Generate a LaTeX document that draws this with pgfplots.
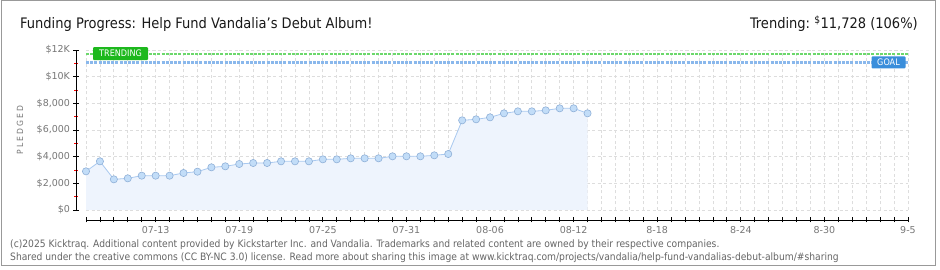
\documentclass[border=0pt]{standalone}
\usepackage{pgfplots}
\pgfplotsset{compat=1.18}
\usepackage{fontspec}
\setmainfont{DejaVu Sans Condensed}
\newfontfamily\tickfont{DejaVu Sans}
\definecolor{areafill}{HTML}{EEF4FD}
\definecolor{linec}{HTML}{A9C9F0}
\definecolor{markfill}{HTML}{C2DDF8}
\definecolor{markdraw}{HTML}{8FB0D8}
\definecolor{gridc}{HTML}{DDDDDD}
\definecolor{trendc}{HTML}{6CD86C}
\definecolor{trendbox}{HTML}{1DB81D}
\definecolor{goalc}{HTML}{8AB8EC}
\definecolor{goalbox}{HTML}{3A8EDB}
\definecolor{tickc}{HTML}{777777}
\definecolor{framec}{HTML}{999999}
\definecolor{footc}{HTML}{666666}
\pgfplotstableread{
x y
0 2900
1 3650
2 2300
3 2375
4 2575
5 2575
6 2575
7 2775
8 2875
9 3200
10 3275
11 3450
12 3525
13 3525
14 3650
15 3650
16 3650
17 3800
18 3800
19 3875
20 3875
21 3875
22 4025
23 4025
24 4025
25 4100
26 4200
27 6725
28 6800
29 6950
30 7250
31 7400
32 7400
33 7475
34 7625
35 7625
36 7250
}\pledged
\begin{document}
\begin{tikzpicture}[x=1pt,y=1pt]
\fill[white] (0,0) rectangle (940,270);
\draw[framec, line width=1pt] (1,4) rectangle (935,269.5);
\begin{axis}[
  at={(86pt,60pt)}, anchor=origin, scale only axis,
  width=822pt, height=160pt,
  xmin=0, xmax=59, ymin=0, ymax=12000,
  axis lines=left, axis line shift=10pt,
  axis line style={-, black, line width=0.8pt},
  xtick={0,...,59},
  xticklabels={,,,,,07-13,,,,,,07-19,,,,,,07-25,,,,,,07-31,,,,,,08-06,,,,,,08-12,,,,,,8-18,,,,,,8-24,,,,,,8-30,,,,,,9-5},
  ytick={0,2000,...,12000},
  yticklabels={{\$0},{\$2,000},{\$4,000},{\$6,000},{\$8,000},{\$10K},{\$12K}},
  minor ytick={1000,3000,...,11000},
  tick align=center, major tick length=5pt, minor tick length=3pt,
  major tick style={black, line width=0.8pt},
  minor tick style={red, line width=0.8pt},
  xmajorgrids, ymajorgrids,
  grid style={draw=gridc, dash pattern=on 3pt off 2.5pt, line width=0.8pt},
  tick label style={font=\tickfont\fontsize{9.5}{10}\selectfont, text=tickc},
  scaled y ticks=false,
  clip=false,
]
\addplot[fill=areafill, draw=none] table[x=x,y=y] {\pledged} \closedcycle;
\addplot[trendc, line width=2.2pt, dash pattern=on 3pt off 1.2pt] coordinates {(0,11728) (59,11728)};
\addplot[goalc, line width=2.2pt, dash pattern=on 3pt off 1.2pt] coordinates {(0,11064) (59,11064)};
\addplot[linec, line width=0.8pt, mark=*, mark size=3.6pt, mark options={fill=markfill, draw=markdraw, line width=0.6pt}] table[x=x,y=y] {\pledged};
\node[fill=trendbox, text=white, font=\fontsize{9}{9}\selectfont, rounded corners=1pt, minimum width=55pt, minimum height=13pt, inner sep=0pt] at (axis cs:2.48,11728) {TRENDING};
\node[fill=goalbox, text=white, font=\fontsize{9}{9}\selectfont, rounded corners=1pt, minimum width=34pt, minimum height=12pt, inner sep=0pt] at (axis cs:57.6,11064) {GOAL};
\end{axis}
\node[anchor=base west, inner sep=0pt, font=\fontsize{14.5}{15}\selectfont, text=black!90] at (20,241) {Funding Progress: Help Fund Vandalia's Debut Album!};
\node[anchor=base east, inner sep=0pt, font=\fontsize{14.5}{15}\selectfont, text=black!90] at (918,241) {Trending:\ \textsuperscript{\$}11,728 (106\%)};
\node[rotate=90, inner sep=0pt, font=\fontsize{8.5}{8.5}\selectfont\addfontfeature{LetterSpace=25}, text=tickc] at (20,140) {PLEDGED};
\node[anchor=base west, inner sep=0pt, font=\fontsize{10.2}{11}\selectfont, text=footc] at (10,22.5) {(c)2025 Kicktraq. Additional content provided by Kickstarter Inc. and Vandalia. Trademarks and related content are owned by their respective companies.};
\node[anchor=base west, inner sep=0pt, font=\fontsize{10.2}{11}\selectfont, text=footc] at (10,9.5) {Shared under the creative commons (CC BY-NC 3.0) license. Read more about sharing this image at www.kicktraq.com/projects/vandalia/help-fund-vandalias-debut-album/\#sharing};
\pgfresetboundingbox
\path[use as bounding box] (0,0) rectangle (940,270);
\end{tikzpicture}
\end{document}
